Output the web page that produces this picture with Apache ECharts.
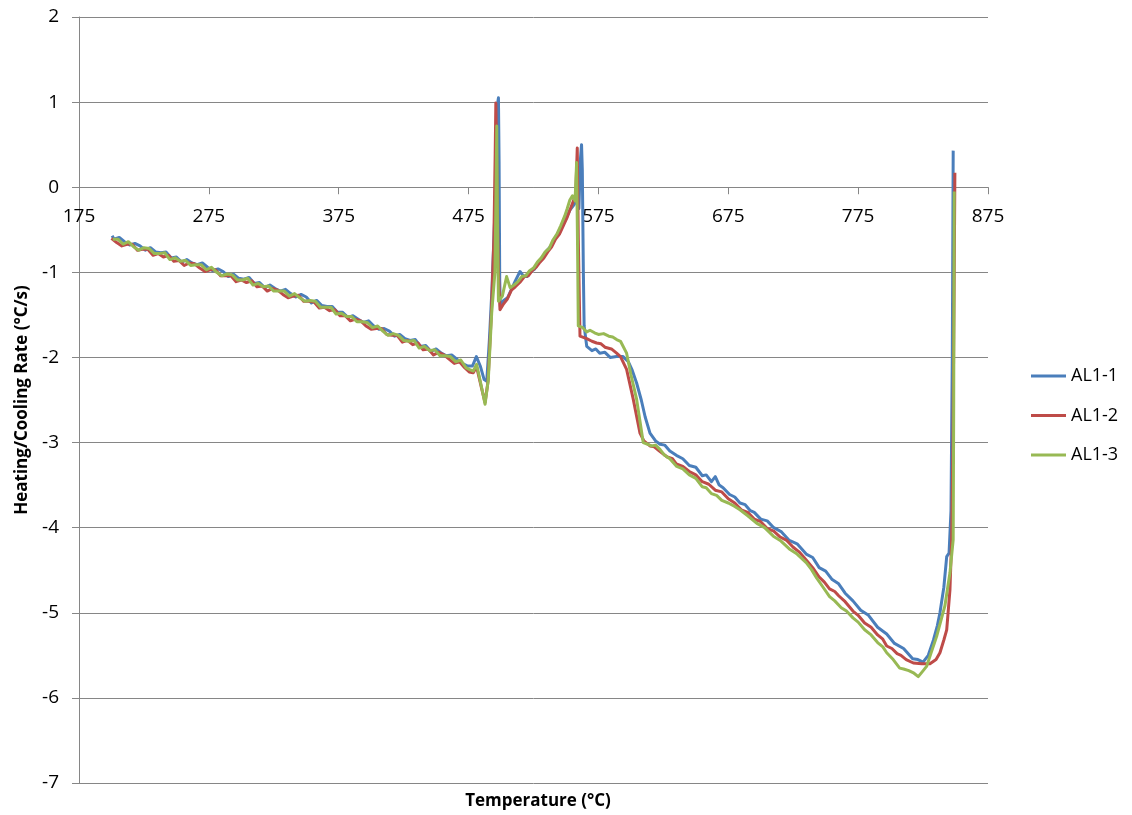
<!DOCTYPE html>
<html>
<head>
<meta charset="utf-8">
<script src="https://cdn.jsdelivr.net/npm/echarts@6/dist/echarts.min.js"></script>
<style>
  html, body { margin: 0; padding: 0; background: #fff; }
  #chart { width: 1132px; height: 815px; }
</style>
</head>
<body>
<div id="chart"></div>
<script>
// ---- Data (Temperature °C, Heating/Cooling Rate °C/s) ----
const seriesNames = ['AL1-1', 'AL1-2', 'AL1-3'];
const xTicks = { min: 175, max: 875, interval: 100 };
const yTicks = { min: -7, max: 2, interval: 1 };

const al1_1 = [
  [200.5,-0.57],[202,-0.61],[206,-0.59],[210,-0.64],[214,-0.68],[218,-0.66],[222,-0.69],[226,-0.74],[230,-0.71],[234,-0.76],
  [238,-0.77],[242,-0.76],[246,-0.83],[250,-0.82],[254,-0.88],[258,-0.85],[262,-0.89],[266,-0.91],[270,-0.89],[274,-0.94],
  [278,-0.98],[282,-0.96],[286,-0.99],[290,-1.05],[294,-1.02],[298,-1.07],[302,-1.08],[306,-1.06],[310,-1.13],[314,-1.12],
  [318,-1.18],[322,-1.15],[326,-1.19],[330,-1.22],[334,-1.20],[338,-1.25],[342,-1.29],[346,-1.26],[350,-1.29],[354,-1.36],
  [358,-1.33],[362,-1.39],[366,-1.40],[370,-1.40],[374,-1.47],[378,-1.47],[382,-1.53],[386,-1.51],[390,-1.55],[394,-1.59],
  [398,-1.57],[402,-1.63],[406,-1.67],[410,-1.66],[414,-1.69],[418,-1.75],[422,-1.73],[426,-1.78],[430,-1.80],[434,-1.79],
  [438,-1.87],[442,-1.86],[446,-1.93],[450,-1.90],[454,-1.95],[458,-1.98],[462,-1.97],[466,-2.02],[470,-2.07],[474,-2.10],
  [478,-2.10],[481,-1.99],[484,-2.10],[487,-2.26],[489,-2.28],[491,-1.80],[493,-1.20],[495,-0.40],[496.5,0.40],[497.5,1.00],
  [498,1.05],[498.5,0.30],[499,-1.10],[499.5,-1.40],[502,-1.33],[505,-1.30],[508,-1.20],[511,-1.10],[514.6,-0.99],[517,-1.04],
  [520,-1.05],[523,-0.99],[526,-0.96],[529,-0.87],[532,-0.84],[535,-0.75],[538,-0.70],[541,-0.62],[544,-0.55],[547,-0.45],
  [550,-0.37],[553,-0.27],[556,-0.21],[558,-0.16],[560,-0.25],[561,0.30],[562,0.50],[562.6,0.20],[563.4,-1.00],[564,-1.63],
  [566,-1.87],[570,-1.92],[573,-1.90],[576,-1.95],[580,-1.94],[584,-2.00],[589,-1.99],[594,-1.99],[598,-2.05],[601,-2.15],
  [604.4,-2.30],[608,-2.50],[611,-2.70],[614.7,-2.89],[619,-2.98],[622.4,-3.02],[626,-3.03],[630,-3.10],[635,-3.15],[640,-3.19],
  [645,-3.27],[650,-3.29],[655,-3.39],[658,-3.38],[662,-3.46],[665,-3.40],[668,-3.50],[671,-3.53],[676,-3.61],[680,-3.64],
  [684,-3.71],[688,-3.73],[692,-3.80],[695,-3.82],[700,-3.90],[705,-3.92],[710,-4.00],[716,-4.05],[722,-4.15],[728,-4.19],
  [735,-4.31],[740,-4.35],[745,-4.47],[750,-4.51],[755,-4.61],[760,-4.66],[765,-4.77],[771,-4.86],[777,-4.97],[783,-5.03],
  [790,-5.17],[797,-5.25],[803,-5.36],[810,-5.42],[817,-5.54],[821,-5.55],[825,-5.58],[829,-5.50],[833,-5.32],[836,-5.15],
  [838,-5.00],[841,-4.70],[843.2,-4.34],[845,-4.30],[846.5,-3.80],[847.5,-2.00],[848.2,0.43]
];

const al1_2 = [
  [200,-0.60],[204,-0.65],[208,-0.69],[212,-0.67],[216,-0.67],[220,-0.74],[224,-0.73],[228,-0.73],[232,-0.80],[236,-0.78],
  [240,-0.82],[244,-0.80],[248,-0.87],[252,-0.86],[256,-0.92],[260,-0.89],[264,-0.90],[268,-0.95],[272,-0.99],[276,-0.97],
  [280,-0.97],[284,-1.04],[288,-1.04],[292,-1.04],[296,-1.11],[300,-1.09],[304,-1.12],[308,-1.10],[312,-1.17],[316,-1.16],
  [320,-1.22],[324,-1.19],[328,-1.21],[332,-1.26],[336,-1.30],[340,-1.28],[344,-1.27],[348,-1.34],[352,-1.34],[356,-1.35],
  [360,-1.42],[364,-1.41],[368,-1.45],[372,-1.44],[376,-1.51],[380,-1.51],[384,-1.57],[388,-1.55],[392,-1.57],[396,-1.63],
  [400,-1.67],[404,-1.66],[408,-1.66],[412,-1.73],[416,-1.74],[420,-1.74],[424,-1.82],[428,-1.80],[432,-1.85],[436,-1.83],
  [440,-1.91],[444,-1.90],[448,-1.97],[452,-1.94],[456,-1.97],[460,-2.02],[464,-2.07],[468,-2.05],[472,-2.12],[475.5,-2.17],
  [478.6,-2.18],[481.2,-2.11],[485,-2.36],[487.7,-2.53],[490,-2.28],[492.5,-1.50],[494.5,-0.60],[495.5,0.40],[496,0.99],[496.8,0.20],
  [498,-1.00],[499.2,-1.44],[502,-1.37],[505,-1.31],[508,-1.21],[511,-1.17],[515,-1.11],[518,-1.05],[521,-1.04],[524,-0.98],
  [527,-0.94],[530,-0.88],[533,-0.83],[536,-0.76],[539,-0.70],[542,-0.61],[545,-0.55],[548,-0.45],[551,-0.35],[554,-0.23],
  [556,-0.15],[557.5,-0.10],[558.7,0.46],[559.5,-0.60],[560.8,-1.75],[566,-1.78],[570,-1.81],[573.6,-1.83],[577,-1.84],[580,-1.88],
  [585,-1.90],[589,-1.95],[592,-1.99],[596.7,-2.14],[601.8,-2.49],[607,-2.89],[610,-2.98],[614.7,-3.04],[618,-3.05],[622,-3.10],
  [628,-3.17],[632,-3.19],[635,-3.25],[640,-3.28],[645,-3.34],[650,-3.38],[655,-3.46],[660,-3.49],[665,-3.56],[670,-3.58],
  [675,-3.66],[680,-3.71],[685,-3.79],[690,-3.82],[695,-3.90],[700,-3.93],[705,-4.01],[710,-4.04],[715,-4.11],[720,-4.15],
  [725,-4.23],[730,-4.29],[735,-4.38],[740,-4.47],[745,-4.58],[749,-4.64],[753,-4.72],[757,-4.75],[760,-4.80],[765,-4.87],
  [771,-4.98],[775,-5.03],[780,-5.12],[785,-5.17],[790,-5.26],[794,-5.31],[797,-5.39],[801,-5.42],[805,-5.48],[808,-5.50],
  [812,-5.55],[817.5,-5.59],[824,-5.60],[830.3,-5.60],[835,-5.55],[838,-5.47],[841,-5.32],[843.2,-5.20],[845.7,-4.73],[847,-4.14],
  [848,-3.00],[849,-1.00],[849.5,0.17]
];

const al1_3 = [
  [201,-0.61],[205,-0.61],[209,-0.67],[213,-0.64],[217,-0.70],[221,-0.74],[225,-0.71],[229,-0.72],[233,-0.78],[237,-0.78],
  [241,-0.77],[245,-0.85],[249,-0.83],[253,-0.87],[257,-0.86],[261,-0.92],[265,-0.91],[269,-0.91],[273,-0.97],[277,-0.94],
  [281,-1.00],[285,-1.04],[289,-1.02],[293,-1.03],[297,-1.09],[301,-1.09],[305,-1.07],[309,-1.15],[313,-1.13],[317,-1.17],
  [321,-1.16],[325,-1.22],[329,-1.22],[333,-1.22],[337,-1.28],[341,-1.25],[345,-1.30],[349,-1.34],[353,-1.33],[357,-1.34],
  [361,-1.41],[365,-1.41],[369,-1.41],[373,-1.49],[377,-1.48],[381,-1.52],[385,-1.52],[389,-1.58],[393,-1.58],[397,-1.59],
  [401,-1.65],[405,-1.63],[409,-1.69],[413,-1.74],[417,-1.72],[421,-1.74],[425,-1.80],[429,-1.81],[433,-1.80],[437,-1.89],
  [441,-1.87],[445,-1.92],[449,-1.91],[453,-1.98],[457,-1.98],[461,-1.99],[465,-2.05],[469,-2.03],[473,-2.12],[475.5,-2.14],
  [478.6,-2.16],[481.2,-2.08],[485,-2.35],[487.7,-2.55],[490.2,-2.26],[492.8,-1.48],[495.3,-1.00],[496.2,0.00],[496.7,0.72],[497.3,-0.50],
  [498,-1.34],[501,-1.28],[504.3,-1.05],[507,-1.18],[510,-1.15],[513,-1.11],[516,-1.05],[519,-1.04],[522,-0.98],[525,-0.95],
  [528,-0.88],[531,-0.83],[534,-0.76],[537,-0.72],[540,-0.62],[543,-0.55],[546,-0.45],[549,-0.34],[551,-0.25],[553,-0.15],
  [555,-0.10],[557,-0.16],[558.2,0.29],[559,-0.80],[559.5,-1.63],[563,-1.65],[566,-1.70],[568.5,-1.68],[572,-1.71],[575,-1.73],
  [579,-1.72],[583,-1.75],[586,-1.76],[589,-1.79],[592,-1.81],[596.7,-1.95],[600,-2.20],[604.4,-2.49],[609.5,-3.00],[613,-3.02],
  [616,-3.04],[619,-3.03],[622.4,-3.08],[626,-3.15],[630,-3.19],[635.3,-3.28],[640,-3.31],[645,-3.38],[650,-3.42],[655,-3.52],
  [658,-3.53],[662,-3.60],[666,-3.62],[670,-3.68],[675,-3.71],[680,-3.75],[684,-3.79],[690,-3.86],[697,-3.95],[703,-4.00],
  [709.7,-4.10],[715,-4.15],[722,-4.25],[728,-4.31],[735,-4.41],[739,-4.49],[743,-4.59],[748,-4.70],[753,-4.81],[757,-4.86],
  [762,-4.94],[766,-4.98],[771,-5.06],[775,-5.11],[780,-5.20],[785,-5.26],[790,-5.35],[794,-5.40],[797,-5.47],[802,-5.55],
  [807,-5.65],[810,-5.66],[814,-5.68],[818,-5.71],[821.3,-5.75],[824,-5.70],[827.7,-5.63],[831,-5.48],[835.4,-5.28],[841.8,-4.92],
  [845.7,-4.53],[848.2,-4.14],[848.6,-2.50],[849,-0.05]
];

const colors = ['#4A7EBB', '#BE4B48', '#98B954'];
const dataSets = [al1_1, al1_2, al1_3];

const FONT = '"Open Sans", "Liberation Sans", sans-serif';
const chart = echarts.init(document.getElementById('chart'), null, { renderer: 'canvas' });

// distance (px) from bottom of plot to the y = 0 line
const gridTop = 17, gridBottom = 32, chartH = 815;
const plotH = chartH - gridTop - gridBottom;
const zeroOffset = plotH * (0 - yTicks.min) / (yTicks.max - yTicks.min);

chart.setOption({
  animation: false,
  backgroundColor: '#fff',
  textStyle: { fontFamily: FONT, color: '#000' },
  grid: { left: 79, right: 144, top: gridTop, bottom: gridBottom, containLabel: false, outerBoundsMode: 'none' },
  title: {
    text: 'Temperature (°C)',
    left: 533, top: 788, textAlign: 'center',
    textStyle: { fontFamily: FONT, fontSize: 17, fontWeight: 'bold', color: '#000' }
  },
  legend: {
    orient: 'vertical',
    left: 1031, top: 367, padding: 0,
    itemWidth: 35, itemHeight: 3, itemGap: 21.5,
    icon: 'rect',
    textStyle: { fontFamily: FONT, fontSize: 18, color: '#000' },
    data: seriesNames
  },
  xAxis: {
    type: 'value',
    position: 'bottom',
    offset: -zeroOffset,
    min: xTicks.min, max: xTicks.max, interval: xTicks.interval,
    axisLine: { onZero: false, lineStyle: { color: '#868686', width: 1 } },
    axisTick: { show: true, inside: false, length: 7, lineStyle: { color: '#868686' } },
    axisLabel: { fontFamily: FONT, fontSize: 19, color: '#000', margin: 20 },
    splitLine: { show: false }
  },
  yAxis: {
    type: 'value',
    min: yTicks.min, max: yTicks.max, interval: yTicks.interval,
    name: 'Heating/Cooling Rate (°C/s)',
    nameLocation: 'middle', nameRotate: 90, nameGap: 37,
    nameTextStyle: { fontFamily: FONT, fontSize: 17, fontWeight: 'bold', color: '#000' },
    axisLine: { show: true, lineStyle: { color: '#868686', width: 1 } },
    axisTick: { show: true, inside: false, length: 7, lineStyle: { color: '#868686' } },
    axisLabel: { fontFamily: FONT, fontSize: 19, color: '#000', margin: 20 },
    splitLine: { show: true, lineStyle: { color: '#868686', width: 1 } }
  },
  series: seriesNames.map((name, i) => ({
    name: name,
    type: 'line',
    data: dataSets[i],
    showSymbol: false,
    symbol: 'none',
    color: colors[i],
    lineStyle: { color: colors[i], width: 3, join: 'round' },
    z: 2 + i
  }))
});
</script>
</body>
</html>
